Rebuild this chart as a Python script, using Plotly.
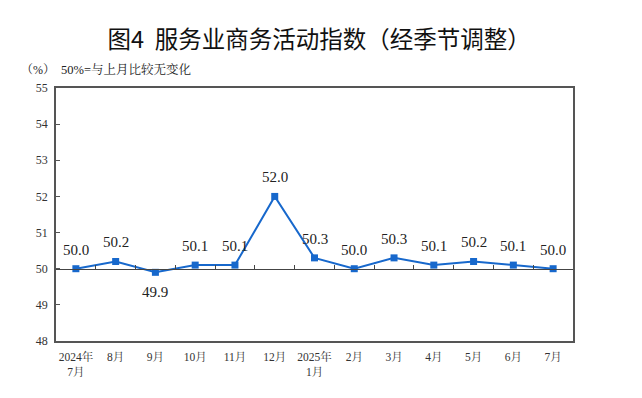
import plotly.graph_objects as go

categories = ["2024年<br>7月", "8月", "9月", "10月", "11月", "12月", "2025年<br>1月",
              "2月", "3月", "4月", "5月", "6月", "7月"]
values = [50.0, 50.2, 49.9, 50.1, 50.1, 52.0, 50.3, 50.0, 50.3, 50.1, 50.2, 50.1, 50.0]
y_ticks = [48, 49, 50, 51, 52, 53, 54, 55]

BLUE = "#1768cc"
SERIF = "Liberation Serif, 'Noto Serif CJK SC', 'Noto Sans CJK SC', serif"
CJK = "'Noto Sans CJK SC', sans-serif"

idx = list(range(len(categories)))

fig = go.Figure()
fig.add_trace(go.Scatter(
    x=idx, y=values, mode="lines+markers",
    line=dict(color=BLUE, width=2),
    marker=dict(symbol="square", size=7, color=BLUE),
    hoverinfo="skip", showlegend=False,
))
# invisible trace for the 50-line axis with boundary ticks
fig.add_trace(go.Scatter(
    x=idx, y=values, xaxis="x2", mode="lines",
    line=dict(width=0), opacity=0, hoverinfo="skip", showlegend=False,
))

for i, v in enumerate(values):
    below = v < 50
    fig.add_annotation(
        x=i, y=v, text=f"{v:.1f}", showarrow=False,
        yshift=-20 if below else 19,
        font=dict(family=SERIF, size=15, color="#222"),
    )

fig.update_layout(
    width=626, height=382,
    margin=dict(l=48, r=61, t=80, b=44),
    paper_bgcolor="white", plot_bgcolor="white",
    title=dict(
        text="图4  服务业商务活动指数（经季节调整）",
        x=0.497, xanchor="center", y=0.916, yanchor="middle",
        font=dict(family=CJK, size=23.5, color="#111"),
    ),
    xaxis=dict(
        range=[-0.5, len(categories) - 0.5],
        tickmode="array", tickvals=idx, ticktext=categories,
        showgrid=False, zeroline=False,
        showline=True, linecolor="#555", linewidth=1.5, mirror=True,
        ticks="", ticklabelstandoff=4,
        tickfont=dict(family=SERIF, size=11.5, color="#333"),
    ),
    xaxis2=dict(
        overlaying="x", anchor="free", position=(50 - 48) / (55 - 48),
        range=[-0.5, len(categories) - 0.5],
        tickmode="array", tickvals=[i + 0.5 for i in idx[:-1]],
        showticklabels=False, showgrid=False, zeroline=False,
        showline=True, linecolor="#444", linewidth=1.2,
        ticks="inside", ticklen=4, tickcolor="#444", tickwidth=1,
    ),
    yaxis=dict(
        range=[48, 55], tickmode="array", tickvals=y_ticks,
        showgrid=False, zeroline=False,
        showline=True, linecolor="#555", linewidth=1.5, mirror=True,
        ticks="inside", ticklen=4, tickcolor="#555", ticklabelstandoff=4,
        tickfont=dict(family=SERIF, size=12, color="#333"),
    ),
)

fig.add_annotation(
    x=0.0, y=1.0, xref="paper", yref="paper", xanchor="left", yanchor="bottom",
    xshift=-37, yshift=9,
    text="（%）", showarrow=False,
    font=dict(family=SERIF, size=12, color="#222"),
)
fig.add_annotation(
    x=0.0, y=1.0, xref="paper", yref="paper", xanchor="left", yanchor="bottom",
    xshift=3, yshift=9,
    text="50%=与上月比较无变化", showarrow=False,
    font=dict(family=SERIF, size=12.5, color="#222"),
)

fig.write_html("out.html")
